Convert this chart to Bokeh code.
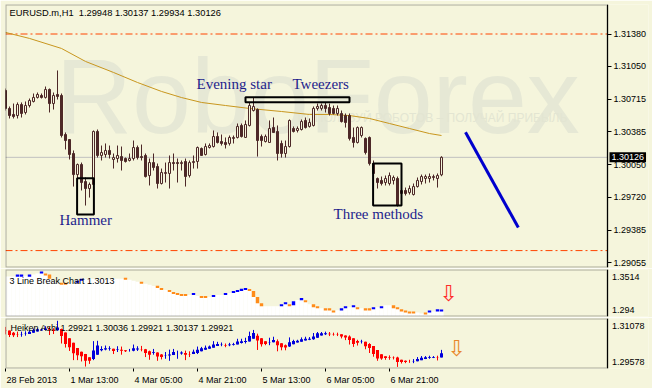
from bokeh.plotting import figure
from bokeh.layouts import column
from bokeh.models import (Range1d, Label, FixedTicker, CustomJSTickFormatter, LinearAxis,
                          ColumnDataSource, BoxAnnotation)
from bokeh.core.properties import value
from bokeh.embed import file_html
from bokeh.resources import INLINE

# ---------------- data (EURUSD.m, H1) ----------------
bar_open = [
    1.30806, 1.30623, 1.30562, 1.30551, 1.30663, 1.30582, 1.30653, 1.30694, 1.30735, 1.30755,
    1.30735, 1.30816, 1.30673, 1.30765, 1.30755, 1.30358, 1.30307, 1.30165, 1.29951, 1.30053,
    1.29880, 1.29809, 1.29850, 1.30389, 1.30145, 1.30155, 1.30196, 1.30104, 1.30114, 1.30134,
    1.30114, 1.30094, 1.30114, 1.30226, 1.30134, 1.30145, 1.29941, 1.30073, 1.30033, 1.29860,
    1.29962, 1.29962, 1.30073, 1.30073, 1.30063, 1.30084, 1.29941, 1.30073, 1.30084, 1.30216,
    1.30155, 1.30226, 1.30236, 1.30338, 1.30287, 1.30277, 1.30267, 1.30318, 1.30328, 1.30450,
    1.30328, 1.30450, 1.30602, 1.30612, 1.30338, 1.30287, 1.30277, 1.30429, 1.30389, 1.30267,
    1.30165, 1.30236, 1.30419, 1.30399, 1.30409, 1.30501, 1.30440, 1.30450, 1.30623, 1.30623,
    1.30653, 1.30633, 1.30623, 1.30572, 1.30572, 1.30551, 1.30551, 1.30328, 1.30277, 1.30348,
    1.30318, 1.30328, 1.30063, 1.29911, 1.29891, 1.29870, 1.29860, 1.29891, 1.29911, 1.29758,
    1.29789, 1.29768, 1.29748, 1.29829, 1.29880, 1.29911, 1.29911, 1.29921, 1.29911, 1.29948,
]
bar_high = [
    1.30826, 1.30643, 1.30673, 1.30684, 1.30684, 1.30694, 1.30724, 1.30775, 1.30785, 1.30775,
    1.30846, 1.30826, 1.30785, 1.31009, 1.30775, 1.30379, 1.30307, 1.30196, 1.30063, 1.30073,
    1.29921, 1.29870, 1.30399, 1.30409, 1.30246, 1.30267, 1.30246, 1.30165, 1.30246, 1.30236,
    1.30124, 1.30165, 1.30297, 1.30246, 1.30256, 1.30165, 1.30114, 1.30165, 1.30063, 1.30012,
    1.30073, 1.30145, 1.30165, 1.30114, 1.30094, 1.30114, 1.30094, 1.30145, 1.30236, 1.30226,
    1.30267, 1.30267, 1.30399, 1.30379, 1.30358, 1.30328, 1.30348, 1.30348, 1.30470, 1.30470,
    1.30501, 1.30684, 1.30735, 1.30623, 1.30358, 1.30358, 1.30501, 1.30531, 1.30450, 1.30297,
    1.30297, 1.30511, 1.30440, 1.30440, 1.30511, 1.30531, 1.30521, 1.30643, 1.30673, 1.30673,
    1.30684, 1.30673, 1.30653, 1.30653, 1.30602, 1.30572, 1.30572, 1.30429, 1.30440, 1.30440,
    1.30328, 1.30338, 1.30094, 1.29921, 1.29931, 1.29941, 1.29972, 1.29941, 1.29931, 1.29819,
    1.29819, 1.29840, 1.29860, 1.29921, 1.29951, 1.29951, 1.29962, 1.29951, 1.29962, 1.30137,
]
bar_low = [
    1.30602, 1.30521, 1.30521, 1.30521, 1.30531, 1.30562, 1.30633, 1.30684, 1.30724, 1.30724,
    1.30724, 1.30582, 1.30612, 1.30714, 1.30328, 1.30206, 1.30104, 1.29829, 1.29829, 1.29789,
    1.29636, 1.29717, 1.29829, 1.30124, 1.30094, 1.30124, 1.30114, 1.30012, 1.30073, 1.29992,
    1.30073, 1.30084, 1.30094, 1.30104, 1.30094, 1.29921, 1.29840, 1.29992, 1.29809, 1.29850,
    1.29870, 1.29809, 1.29992, 1.29870, 1.29992, 1.29829, 1.29921, 1.30012, 1.30012, 1.30145,
    1.30145, 1.30216, 1.30226, 1.30267, 1.30246, 1.30216, 1.30246, 1.30267, 1.30318, 1.30328,
    1.30328, 1.30440, 1.30592, 1.30134, 1.30236, 1.30277, 1.30277, 1.30379, 1.30094, 1.30124,
    1.30124, 1.30226, 1.30379, 1.30379, 1.30399, 1.30419, 1.30429, 1.30440, 1.30602, 1.30602,
    1.30582, 1.30551, 1.30562, 1.30551, 1.30480, 1.30429, 1.30297, 1.30226, 1.30267, 1.30328,
    1.30155, 1.30043, 1.29931, 1.29809, 1.29840, 1.29840, 1.29840, 1.29850, 1.29626, 1.29728,
    1.29738, 1.29748, 1.29738, 1.29819, 1.29850, 1.29860, 1.29870, 1.29891, 1.29819, 1.29934,
]
bar_close = [
    1.30623, 1.30551, 1.30541, 1.30663, 1.30572, 1.30653, 1.30704, 1.30735, 1.30765, 1.30735,
    1.30816, 1.30673, 1.30755, 1.30745, 1.30348, 1.30297, 1.30155, 1.29951, 1.30053, 1.29870,
    1.29809, 1.29850, 1.30389, 1.30145, 1.30175, 1.30196, 1.30155, 1.30124, 1.30145, 1.30094,
    1.30084, 1.30114, 1.30226, 1.30124, 1.30124, 1.29931, 1.30073, 1.30023, 1.29860, 1.29972,
    1.29972, 1.30073, 1.30063, 1.30063, 1.30073, 1.29931, 1.30073, 1.30084, 1.30226, 1.30145,
    1.30236, 1.30246, 1.30338, 1.30277, 1.30267, 1.30256, 1.30328, 1.30328, 1.30440, 1.30338,
    1.30460, 1.30653, 1.30643, 1.30297, 1.30297, 1.30338, 1.30419, 1.30379, 1.30165, 1.30165,
    1.30236, 1.30501, 1.30389, 1.30419, 1.30490, 1.30429, 1.30480, 1.30623, 1.30643, 1.30653,
    1.30623, 1.30572, 1.30572, 1.30623, 1.30490, 1.30480, 1.30318, 1.30277, 1.30429, 1.30429,
    1.30175, 1.30063, 1.29962, 1.29870, 1.29860, 1.29911, 1.29941, 1.29921, 1.29636, 1.29789,
    1.29758, 1.29809, 1.29829, 1.29891, 1.29931, 1.29931, 1.29931, 1.29931, 1.29941, 1.30126,
]

# moving average (bar index, value)
ma_idx = [0, 6, 14, 20, 27, 33, 39, 44, 49, 55, 61, 69, 76, 81, 86, 91, 96, 101, 106, 109]
ma_val = [1.31396, 1.31335, 1.31233, 1.31101, 1.30989, 1.30887, 1.30796, 1.30734, 1.30684, 1.30653,
          1.30623, 1.30592, 1.30562, 1.30562, 1.30551, 1.30521, 1.30470, 1.30419, 1.30368, 1.30348]

levels = [1.31380, 1.29178]
last_price = 1.30126
price_ticks = [1.29055, 1.29385, 1.29720, 1.30050, 1.30385, 1.30715, 1.31050, 1.31380]
price_tick_labels = ["1.29055", "1.29385", "1.29720", "1.30050", "1.30385", "1.30715",
                     "1.31050", "1.31380"]

# 3 Line Break indicator
lb_value = [
    1.3427, 1.3427, 1.3427, 1.3439, 1.3439, 1.3439, 1.3439, 1.3452, 1.3464, 1.3477,
    1.3452, 1.3402, 1.3377, 1.3352, 1.3339, 1.3339, 1.3339, 1.3352, 1.3364, 1.3389,
    1.3402, 1.3402, 1.3402, 1.3402, 1.3402, 1.3402, 1.3402, 1.3402, 1.3402, 1.3402,
    1.3402, 1.3389, 1.3377, 1.3364, 1.3352, 1.3339, 1.3327, 1.3314, 1.3302, 1.3277,
    1.3265, 1.3252, 1.3227, 1.3215, 1.3202, 1.3202, 1.3202, 1.3215, 1.3190, 1.3177,
    1.3177, 1.3177, 1.3190, 1.3202, 1.3202, 1.3215, 1.3227, 1.3240, 1.3252, 1.3265,
    1.3277, 1.3252, 1.3177, 1.3102, 1.3065, 1.3065, 1.3065, 1.3065, 1.3065, 1.3077,
    1.3102, 1.3077, 1.3127, 1.3140, 1.3152, 1.3127, 1.3090, 1.3052, 1.3052, 1.3040,
    1.3027, 1.3027, 1.3002, 1.3015, 1.3027, 1.3052, 1.3052, 1.3065, 1.3040, 1.3040,
    1.3027, 1.3027, 1.3040, 1.3052, 1.3052, 1.3077, 1.3077, 1.3040, 1.3040, 1.3015,
    1.3002, 1.2990, 1.2990, 1.2990, 1.2977, 1.2977, 1.3002, 1.3002, 1.3015, 1.3013,
]
lb_dir = [
    0, 0, 0, 1, 1, 0, 1, 0, 0, 1,
    -1, -1, 0, 0, -1, -1, 0, 0, 1, 1,
    0, 0, 0, 0, 0, 0, 0, 0, 0, 0,
    -1, 0, 0, 0, -1, 0, 0, 0, -1, -1,
    0, -1, -1, -1, -1, -1, 0, 1, 0, -1,
    -1, 0, 1, 0, 0, 1, 0, 1, 1, 1,
    1, -1, -1, -1, -1, 0, 0, 0, 0, 1,
    1, -1, 1, 0, 1, -1, 0, -1, -1, 0,
    -1, -1, -1, 0, 1, 1, 0, 1, -1, 0,
    -1, -1, 1, 0, 1, 0, 0, -1, -1, -1,
    -1, -1, -1, 0, 0, -1, 1, 0, 1, 1,
]
lb_range = [1.294, 1.3514]
lb_tick_vals = [1.30236, 1.34183]
lb_tick_labels = ["1.294", "1.3514"]

ha_range = [1.29578, 1.31078]
ha_tick_vals = [1.29767, 1.30868]
ha_tick_labels = ["1.29578", "1.31078"]

time_tick_idx = [0, 16, 32, 48, 64, 80, 96]
time_tick_labels = ["28 Feb 2013", "1 Mar 13:00", "4 Mar 05:00", "4 Mar 21:00",
                    "5 Mar 13:00", "6 Mar 05:00", "6 Mar 21:00"]

# analyst annotations
box_left = [17.9, 60.0, 91.9]
box_right = [22.1, 86.0, 99.0]
box_top = [1.29914, 1.30738, 1.30063]
box_bottom = [1.29545, 1.30687, 1.29636]
pattern_names = ["Hammer", "Evening star", "Tweezers", "Three methods"]
pattern_x = [13.5, 47.75, 71.75, 82.0]
pattern_y = [1.29490, 1.30871, 1.30871, 1.29546]
forecast_idx = [115.0, 128.2]
forecast_val = [1.30382, 1.29412]

# ---------------- styling ----------------
BG = "#F5F5DC"
DARK = "#4D2828"
FONT = "Liberation Sans"
W = 652
BORDER_L = 5
BORDER_R = 4
PX_PER_BAR = 4.0
CHART_END = (W - BORDER_L - 45) / PX_PER_BAR     # right edge of the price area, in bars
xr = Range1d(0.0, (W - BORDER_L - BORDER_R) / PX_PER_BAR)

n = len(bar_open)
idx = list(range(n))


def make_fig(height, yr, ticks, tick_labels, tick_out, label_gap, top=1, bottom=1, xaxis=False):
    """Price area and its scale share one frame; the scale is an axis fixed at CHART_END."""
    f = figure(width=W, height=height, x_range=xr, y_range=Range1d(*yr),
               output_backend="svg", toolbar_location=None,
               y_axis_location=None, x_axis_location="below" if xaxis else None,
               min_border_left=BORDER_L, min_border_right=BORDER_R, min_border_top=top,
               min_border_bottom=bottom)
    f.background_fill_color = BG
    f.border_fill_color = BG
    f.outline_line_color = None
    f.xgrid.visible = False
    f.ygrid.visible = False
    ax = LinearAxis(fixed_location=CHART_END, ticker=FixedTicker(ticks=ticks),
                    formatter=CustomJSTickFormatter(code="return '';"))
    ax.axis_line_color = "black"
    ax.major_tick_in = 0
    ax.major_tick_out = tick_out
    ax.major_tick_line_color = "black" if tick_out else None
    ax.minor_tick_line_color = None
    ax.major_label_standoff = 0
    f.add_layout(ax, "right")
    f.add_layout(BoxAnnotation(left=0.0, right=CHART_END, fill_alpha=0.0, fill_color=None,
                               line_color="black", line_width=2))
    return f


def scale_labels(f, ticks, tick_labels, gap_px):
    f.text(x=[CHART_END + gap_px / PX_PER_BAR] * len(ticks), y=ticks, text=tick_labels,
           text_font=value(FONT), text_font_size="9px", text_color="black",
           text_baseline="middle", text_align="left")


# ---------------- main chart ----------------
main = make_fig(268, (1.29006, 1.31680), price_ticks, price_tick_labels, 4, 6, top=4)

# watermark
main.text(x=[12.5], y=[1.30745], text=["RoboForex"], text_font=value(FONT),
          text_font_size="106px", text_color="#E6E8D5", text_baseline="alphabetic")
main.text(x=[73.0], y=[1.30531], text=["ИСПОЛЬЗУЙ РОБОТОВ – ПОЛУЧАЙ ПРИБЫЛЬ"],
          text_font=value(FONT), text_font_size="12px", text_color="#E3E5D2",
          text_baseline="alphabetic")

# horizontal levels (within the price area only)
main.segment(x0=[0.0], y0=[last_price], x1=[CHART_END], y1=[last_price],
             line_color="#C0C0C0", line_width=1)
main.segment(x0=[0.0] * len(levels), y0=levels, x1=[CHART_END] * len(levels), y1=levels,
             line_color="#FF4500", line_width=1, line_dash="7 3 2 3")

main.line(ma_idx, ma_val, line_color="#C8961E", line_width=1)

up = [c >= o for o, c in zip(bar_open, bar_close)]
src = ColumnDataSource(dict(
    x=idx, h=bar_high, l=bar_low,
    top=[max(o, c) for o, c in zip(bar_open, bar_close)],
    bottom=[min(o, c) for o, c in zip(bar_open, bar_close)],
    fill=[BG if u else DARK for u in up],
))
main.segment(x0="x", y0="l", x1="x", y1="h", source=src, line_color=DARK, line_width=1)
main.vbar(x="x", width=0.5, top="top", bottom="bottom", fill_color="fill",
          line_color=DARK, line_width=1, source=src)

main.quad(left=box_left, right=box_right, top=box_top, bottom=box_bottom,
          fill_color=None, line_color="black", line_width=2)
main.line(forecast_idx, forecast_val, line_color="#0000CD", line_width=3)
main.text(x=pattern_x, y=pattern_y, text=pattern_names, text_font=value("Liberation Serif"),
          text_font_size="15px", text_color="#1E1E8C", text_baseline="alphabetic")
main.text(x=[1.0], y=[1.31594], text=["EURUSD.m,H1\u00a0 1.29948 1.30137 1.29934 1.30126"],
          text_font=value(FONT), text_font_size="9.3px", text_color="black",
          text_baseline="middle")
scale_labels(main, price_ticks, price_tick_labels, 6)
main.add_layout(Label(x=CHART_END + 0.5, y=last_price, text="1.30126", text_font=FONT,
                      text_font_size="9px", text_color="white", background_fill_color="black",
                      text_baseline="middle", padding=2))

# ---------------- 3 line break panel ----------------
lb = make_fig(49, lb_range, lb_tick_vals, lb_tick_labels, 0, 4)
lb.vbar(x=idx, width=1.05, top=lb_value, bottom=lb_range[0], fill_color="white", line_color=None)
min_h = 0.0025
prev = [lb_value[0]] + lb_value[:-1]
mx, mt, mb, mc = [], [], [], []
for i in idx:
    if lb_dir[i] == 0:
        continue
    t, b = max(lb_value[i], prev[i]), min(lb_value[i], prev[i])
    if t - b < min_h:
        t, b = lb_value[i] + min_h / 2, lb_value[i] - min_h / 2
    mx.append(i)
    mt.append(t)
    mb.append(b)
    mc.append("#0000FF" if lb_dir[i] > 0 else "#FF8C1A")
lb.vbar(x=mx, width=0.85, top=mt, bottom=mb, fill_color=mc, line_color=None)
lb.text(x=[1.0], y=[1.33768], text=["3 Line Break Chart 1.3013"], text_font=value(FONT),
        text_font_size="9px", text_color="black", text_baseline="middle")
lb.text(x=[110.75], y=[1.3227], text=["⇩"], text_font=value("DejaVu Sans"),
        text_font_size="22px", text_color="#FF2A2A", text_align="center", text_baseline="middle")
scale_labels(lb, lb_tick_vals, lb_tick_labels, 4.5)

# ---------------- Heiken Ashi panel ----------------
ha = make_fig(71, ha_range, ha_tick_vals, ha_tick_labels, 0, 4, bottom=20, xaxis=True)
ha_close = [(o + h + l + c) / 4 for o, h, l, c in zip(bar_open, bar_high, bar_low, bar_close)]
ha_open = []
for i in idx:
    if i == 0:
        ha_open.append((bar_open[0] + bar_close[0]) / 2)
    else:
        ha_open.append((ha_open[i - 1] + ha_close[i - 1]) / 2)
ha_high = [max(h, a, b) for h, a, b in zip(bar_high, ha_open, ha_close)]
ha_low = [min(l, a, b) for l, a, b in zip(bar_low, ha_open, ha_close)]
ha_col = ["#0000DC" if c >= o else "#FF0000" for o, c in zip(ha_open, ha_close)]
ha.segment(x0=idx, y0=ha_low, x1=idx, y1=ha_high, line_color=ha_col, line_width=1)
ha.vbar(x=idx, width=0.75, top=[max(a, b) for a, b in zip(ha_open, ha_close)],
        bottom=[min(a, b) for a, b in zip(ha_open, ha_close)], fill_color=ha_col, line_color=None)
ha.text(x=[1.25], y=[1.30808], text=["Heiken Ashi 1.29921 1.30036 1.29921 1.30137 1.29921"],
        text_font=value(FONT), text_font_size="9px", text_color="black", text_baseline="middle")
ha.text(x=[112.75], y=[1.30193], text=["⇩"], text_font=value("DejaVu Sans"),
        text_font_size="22px", text_color="#E8862A", text_align="center", text_baseline="middle")
scale_labels(ha, ha_tick_vals, ha_tick_labels, 4.5)

CW = {" ": .278, ":": .278, "M": .833, "a": .556, "r": .333, "F": .611, "e": .556, "b": .556}


def text_w(s, size):
    return sum(CW.get(ch, .556) for ch in s) * size


centers = [t + (text_w(s, 9) / 2 + 1) / PX_PER_BAR for t, s in zip(time_tick_idx, time_tick_labels)]
xa = ha.xaxis[0]
xa.ticker = FixedTicker(ticks=centers, minor_ticks=time_tick_idx)
xa.formatter = CustomJSTickFormatter(args=dict(labels=time_tick_labels), code="return labels[index];")
xa.axis_line_color = None
xa.major_tick_line_color = None
xa.major_tick_in = 0
xa.major_tick_out = 3
xa.minor_tick_line_color = "black"
xa.minor_tick_in = 0
xa.minor_tick_out = 3
xa.major_label_standoff = 3
xa.major_label_text_font = FONT
xa.major_label_text_font_size = "9px"
xa.major_label_text_color = "black"

layout = column(main, lb, ha, spacing=0)
open("out.html", "w").write(file_html(layout, INLINE))
